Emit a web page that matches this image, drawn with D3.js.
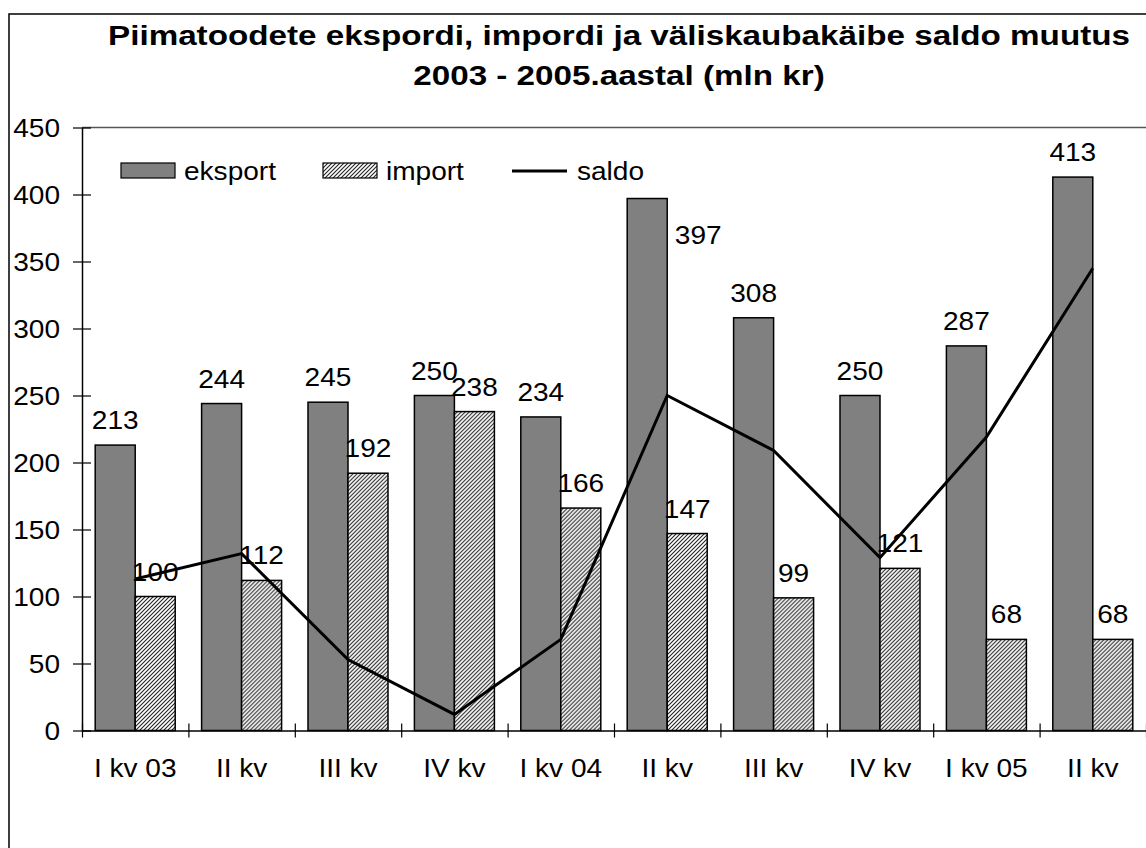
<!DOCTYPE html>
<html>
<head>
<meta charset="utf-8">
<script src="https://cdn.jsdelivr.net/npm/d3@7"></script>
<style>
  body { margin: 0; background: #fff; }
  text { font-family: "Liberation Sans", Arial, sans-serif; fill: #000; }
</style>
</head>
<body>
<div id="chart"></div>
<script>
// Data
const categories = ["I kv 03", "II kv", "III kv", "IV kv", "I kv 04", "II kv", "III kv", "IV kv", "I kv 05", "II kv"];
const eksport = [213, 244, 245, 250, 234, 397, 308, 250, 287, 413];
const importVals = [100, 112, 192, 238, 166, 147, 99, 121, 68, 68];
const saldo = [113, 132, 53, 12, 68, 250, 209, 129, 219, 345];
const yTickValues = [0, 50, 100, 150, 200, 250, 300, 350, 400, 450];
const titleLines = ["Piimatoodete ekspordi, impordi ja väliskaubakäibe saldo muutus", "2003 - 2005.aastal (mln kr)"];

const width = 1146, height = 848;
const plot = { left: 82, right: 1146, top: 127.5, bottom: 730.5 };
const FS = 25.5;       // body font size
const SX = 1.10;       // text in the source is a bit wider than tall
const FS_TITLE = 27;
const SX_TITLE = 1.23;

const svg = d3.select("#chart").append("svg")
  .attr("width", width).attr("height", height);

// hatch for import
const defs = svg.append("defs");
const hatch = defs.append("pattern")
  .attr("id", "hatch")
  .attr("patternUnits", "userSpaceOnUse")
  .attr("width", 4).attr("height", 4);
hatch.append("rect").attr("width", 4).attr("height", 4).attr("fill", "#fff");
hatch.append("path")
  .attr("d", "M-1,1 l2,-2 M0,4 l4,-4 M3,5 l2,-2")
  .attr("stroke", "#222").attr("stroke-width", 1.1);

// outer frame
svg.append("rect")
  .attr("x", 9).attr("y", 14)
  .attr("width", width + 20).attr("height", height + 20)
  .attr("fill", "none").attr("stroke", "#000").attr("stroke-width", 1.5);

// title
svg.selectAll(".title").data(titleLines).enter().append("text")
  .attr("class", "title")
  .attr("text-anchor", "middle")
  .attr("transform", (d, i) => `translate(619,${45 + i * 40}) scale(${SX_TITLE},1)`)
  .style("font-size", FS_TITLE + "px").style("font-weight", "bold")
  .text(d => d);

// scales
const x = d3.scaleBand().domain(d3.range(categories.length))
  .range([plot.left, plot.right]).paddingInner(0).paddingOuter(0);
const xSub = d3.scaleBand().domain(["eksport", "import"])
  .range([0, x.bandwidth()]).paddingInner(0).paddingOuter(0.33);
const xEdge = d3.scaleLinear().domain([0, categories.length]).range([plot.left, plot.right]);
const y = d3.scaleLinear().domain([0, 450]).range([plot.bottom, plot.top]);

// top border line of plot area
svg.append("line")
  .attr("x1", plot.left).attr("x2", plot.right)
  .attr("y1", y(450)).attr("y2", y(450))
  .attr("stroke", "#555").attr("stroke-width", 1.5);

// bars
const groups = svg.selectAll(".grp").data(categories).enter().append("g")
  .attr("class", "grp")
  .attr("transform", (d, i) => `translate(${x(i)},0)`);

groups.append("rect")
  .attr("x", xSub("eksport")).attr("width", xSub.bandwidth())
  .attr("y", (d, i) => y(eksport[i]))
  .attr("height", (d, i) => y(0) - y(eksport[i]))
  .attr("fill", "#808080").attr("stroke", "#000").attr("stroke-width", 1.5);

groups.append("rect")
  .attr("x", xSub("import")).attr("width", xSub.bandwidth())
  .attr("y", (d, i) => y(importVals[i]))
  .attr("height", (d, i) => y(0) - y(importVals[i]))
  .attr("fill", "url(#hatch)").attr("stroke", "#000").attr("stroke-width", 1.5);

// y axis
const yAxis = svg.append("g")
  .attr("transform", `translate(${plot.left},0)`)
  .call(d3.axisLeft(y).tickValues(yTickValues).tickSize(9).tickSizeOuter(0));
yAxis.select(".domain").attr("stroke", "#000").attr("stroke-width", 1.5);
yAxis.selectAll(".tick line").attr("x1", 9).attr("stroke", "#000").attr("stroke-width", 1.2);
yAxis.selectAll(".tick text")
  .attr("x", -22 / SX).attr("dy", "0.35em")
  .attr("transform", `scale(${SX},1)`)
  .style("font-size", FS + "px").attr("fill", "#000");

// x axis: tick marks at category edges
const xTicks = svg.append("g")
  .attr("transform", `translate(0,${plot.bottom})`)
  .call(d3.axisBottom(xEdge).tickValues(d3.range(categories.length + 1)).tickSize(7).tickSizeOuter(0).tickFormat(""));
xTicks.select(".domain").attr("stroke", "#000").attr("stroke-width", 1.5);
xTicks.selectAll(".tick line").attr("y1", -7).attr("stroke", "#000").attr("stroke-width", 1.2);

// x axis: labels at category centres
const xLabels = svg.append("g")
  .attr("transform", `translate(0,${plot.bottom})`)
  .call(d3.axisBottom(x).tickSize(0).tickFormat(i => categories[i]));
xLabels.select(".domain").remove();
xLabels.selectAll(".tick text")
  .attr("y", 47).attr("dy", "0")
  .attr("transform", `scale(${SX},1)`)
  .style("font-size", FS + "px").attr("fill", "#000");

// saldo line, vertices at category centres
const line = d3.line()
  .x((d, i) => x(i) + x.bandwidth() / 2)
  .y(d => y(d));
svg.append("path")
  .datum(saldo)
  .attr("d", line)
  .attr("fill", "none").attr("stroke", "#000").attr("stroke-width", 3);

// value labels
function valueLabel(px, py, txt) {
  svg.append("text")
    .attr("text-anchor", "middle")
    .attr("transform", `translate(${px},${py}) scale(${SX},1)`)
    .style("font-size", FS + "px")
    .text(txt);
}
eksport.forEach((v, i) => {
  const cx = x(i) + xSub("eksport") + xSub.bandwidth() / 2;
  if (i === 5) {
    // this label sits beside the bar in the original
    valueLabel(cx + 51, y(v) + 45, v);
  } else {
    valueLabel(cx, y(v) - 16, v);
  }
});
importVals.forEach((v, i) => {
  const cx = x(i) + xSub("import") + xSub.bandwidth() / 2;
  valueLabel(cx, y(v) - 16, v);
});

// legend
const legendItems = [
  { name: "eksport", kind: "bar", fill: "#808080", x: 121 },
  { name: "import", kind: "bar", fill: "url(#hatch)", x: 323 },
  { name: "saldo", kind: "line", x: 512 }
];
const legend = svg.append("g").attr("transform", "translate(0,163)");
legendItems.forEach(it => {
  if (it.kind === "bar") {
    legend.append("rect")
      .attr("x", it.x).attr("y", 0).attr("width", 54).attr("height", 15)
      .attr("fill", it.fill).attr("stroke", "#000").attr("stroke-width", 1.2);
  } else {
    legend.append("line")
      .attr("x1", it.x).attr("x2", it.x + 55)
      .attr("y1", 8).attr("y2", 8)
      .attr("stroke", "#000").attr("stroke-width", 3);
  }
  legend.append("text")
    .attr("transform", `translate(${it.x + (it.kind === "bar" ? 63 : 65)},17) scale(${SX},1)`)
    .style("font-size", FS + "px")
    .text(it.name);
});
</script>
</body>
</html>
